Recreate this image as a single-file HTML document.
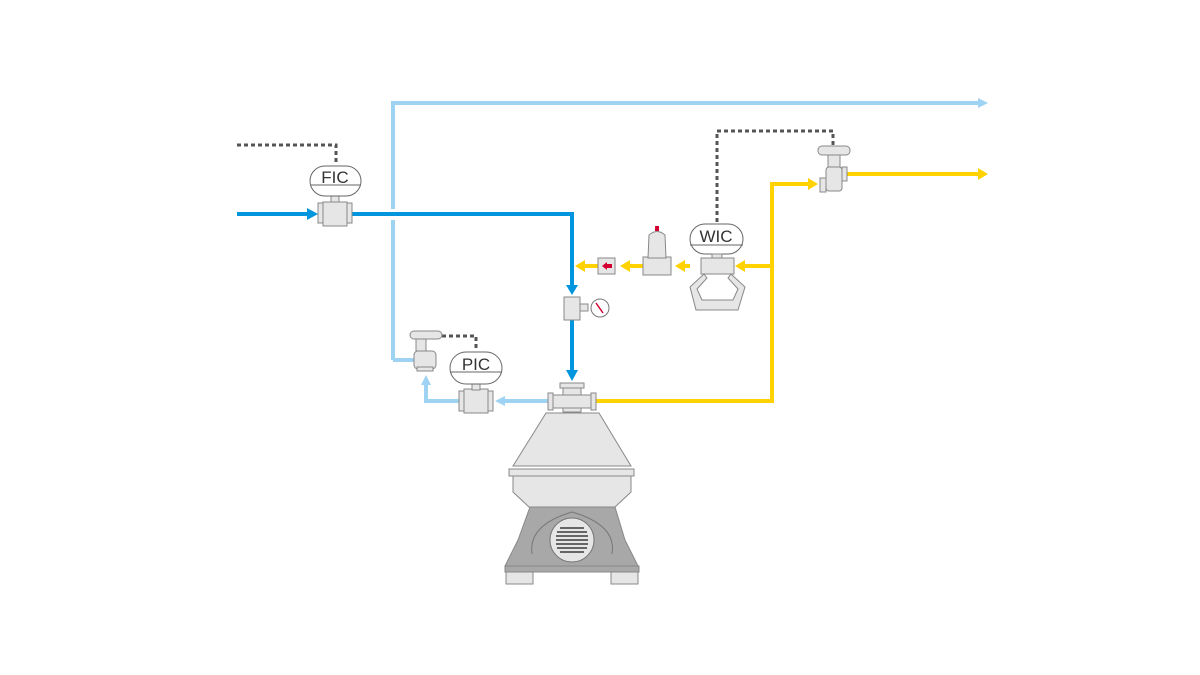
<!DOCTYPE html>
<html><head><meta charset="utf-8"><style>html,body{margin:0;padding:0;background:#fff}svg{display:block}</style></head>
<body>
<svg width="1200" height="675" viewBox="0 0 1200 675" xmlns="http://www.w3.org/2000/svg" font-family="Liberation Sans, DejaVu Sans, sans-serif">
<defs>
<marker id="aLB" markerWidth="4" markerHeight="4" refX="2" refY="2" orient="auto" markerUnits="userSpaceOnUse"></marker>
</defs>
<!-- light blue lines -->
<g fill="none" stroke="#9ed3f3" stroke-width="4">
<polyline points="393,360 393,103 978,103"/>
<polyline points="393,360 414,360"/>
<polyline points="548,401 502,401"/>
<polyline points="460,401 426,401 426,384"/>
</g>
<polygon points="978,98 988,103 978,108" fill="#9ed3f3"/>
<polygon points="505,396 495,401 505,406" fill="#9ed3f3"/>
<polygon points="421,385 426,375 431,385" fill="#9ed3f3"/>
<!-- gap -->
<rect x="389" y="209" width="8" height="11" fill="#fff"/>
<!-- blue lines -->
<g fill="none" stroke="#0095dd" stroke-width="4">
<polyline points="237,214 308,214"/>
<polyline points="352,214 572,214 572,286"/>
<polyline points="572,320 572,371"/>
</g>
<polygon points="307,208 318,214 307,220" fill="#0095dd"/>
<polygon points="566,285 572,295 578,285" fill="#0095dd"/>
<polygon points="566,370 572,381 578,370" fill="#0095dd"/>
<!-- yellow lines -->
<g fill="none" stroke="#ffd200" stroke-width="4">
<polyline points="596,401 772,401 772,184 808,184"/>
<polyline points="772,266 745,266"/>
<polyline points="845,174 978,174"/>
<polyline points="690,266 684,266"/>
<polyline points="643,266 630,266"/>
<polyline points="598,266 585,266"/>
</g>
<polygon points="808,178 818,184 808,190" fill="#ffd200"/>
<polygon points="978,168 988,174 978,180" fill="#ffd200"/>
<polygon points="745,260 735,266 745,272" fill="#ffd200"/>
<polygon points="685,260 675,266 685,272" fill="#ffd200"/>
<polygon points="630,260 620,266 630,272" fill="#ffd200"/>
<polygon points="585,260 575,266 585,272" fill="#ffd200"/>
<!-- dotted -->
<g fill="none" stroke="#555" stroke-width="3" stroke-dasharray="4,3">
<polyline points="237,145 336,145 336,165"/>
<polyline points="717,222 717,131 833,131 833,145"/>
<polyline points="442,336 476,336 476,350"/>
</g>
<g stroke="#888" stroke-width="1" fill="#e6e6e6">
<!-- FIC -->
<rect x="318" y="203" width="6" height="20"/><rect x="346" y="203" width="6" height="20"/>
<rect x="323" y="202" width="24" height="24"/><rect x="331" y="194" width="8" height="8"/>
<rect x="310" y="166" width="51" height="30" rx="15" fill="#fff" stroke="#666"/>
<line x1="310" y1="185" x2="361" y2="185" stroke="#666"/>
<!-- PIC -->
<rect x="459" y="391" width="6" height="20"/><rect x="487" y="391" width="6" height="20"/>
<rect x="464" y="389" width="24" height="24"/><rect x="472" y="382" width="8" height="8"/>
<rect x="450" y="352" width="52" height="32" rx="16" fill="#fff" stroke="#666"/>
<line x1="450" y1="372" x2="502" y2="372" stroke="#666"/>
<!-- WIC -->
<rect x="690" y="224" width="53" height="30" rx="15" fill="#fff" stroke="#666"/>
<line x1="690" y1="245" x2="743" y2="245" stroke="#666"/>
<rect x="712" y="254" width="10" height="6"/>
<rect x="701" y="258" width="33" height="16"/>
<path d="M704,274 L690,287 L696,310 L738,310 L745,287 L731,274 L728,278 L738,289 L733,300 L702,300 L697,289 L707,278 Z"/>
<!-- regulator -->
<rect x="643" y="257" width="28" height="18"/>
<path d="M648,258 L649,235 Q657,228 665,235 L666,258 Z"/>
<rect x="655" y="226" width="4" height="5" fill="#d40030" stroke="none"/>
<!-- sight glass -->
<rect x="598" y="258" width="17" height="16"/>
<polygon points="602,266 607,262 607,264 612,264 612,268 607,268 607,270" fill="#d40030" stroke="none"/>
<!-- gauge -->
<rect x="564" y="297" width="16" height="23"/>
<rect x="580" y="304" width="8" height="7"/>
<circle cx="600" cy="308" r="9" fill="#fff" stroke="#777"/>
<line x1="596" y1="303" x2="603" y2="313" stroke="#d40030" stroke-width="1.5"/>
<!-- small valves -->
<rect x="410" y="331" width="32" height="8" rx="4"/>
<rect x="416" y="339" width="10" height="12"/>
<rect x="414" y="351" width="22" height="18" rx="4"/>
<rect x="417" y="367" width="16" height="4"/>
<rect x="818" y="146" width="32" height="9" rx="4"/>
<rect x="828" y="155" width="12" height="12"/>
<rect x="826" y="167" width="16" height="24" rx="3"/>
<rect x="820" y="178" width="6" height="14"/><rect x="842" y="167" width="5" height="14"/>
<!-- centrifuge fittings -->
<rect x="560" y="383" width="24" height="5"/>
<rect x="563" y="388" width="18" height="24"/>
<rect x="548" y="395" width="48" height="13"/>
<rect x="548" y="393" width="5" height="17"/><rect x="591" y="393" width="5" height="17"/>
<!-- centrifuge body -->
<polygon points="546,413 599,413 631,466 513,466"/>
<rect x="509" y="469" width="125" height="7"/>
<polygon points="513,476 631,476 631,492 615,507 529,507 513,492"/>
<path d="M530,507 L615,507 L625,540 L638,566 L505,566 L518,540 Z" fill="#a8a8a8"/>
<path d="M532,554 Q528,525 572,512 Q617,525 612,554" fill="none" stroke="#777"/>
<rect x="505" y="566" width="134" height="6" fill="#a8a8a8"/>
<rect x="506" y="572" width="27" height="12"/><rect x="611" y="572" width="27" height="12"/>
<circle cx="572" cy="540" r="22" fill="#e6e6e6" stroke="#777"/>
</g>
<g stroke="#666" stroke-width="2">
<line x1="560" y1="528" x2="584" y2="528"/><line x1="557" y1="532" x2="587" y2="532"/>
<line x1="556" y1="536" x2="588" y2="536"/><line x1="556" y1="540" x2="588" y2="540"/>
<line x1="556" y1="544" x2="588" y2="544"/><line x1="557" y1="548" x2="587" y2="548"/>
<line x1="560" y1="552" x2="584" y2="552"/>
</g>
<g fill="#333" font-size="17" text-anchor="middle">
<text x="335" y="183">FIC</text>
<text x="476" y="370">PIC</text>
<text x="716" y="242">WIC</text>
</g>
</svg>
</body></html>
